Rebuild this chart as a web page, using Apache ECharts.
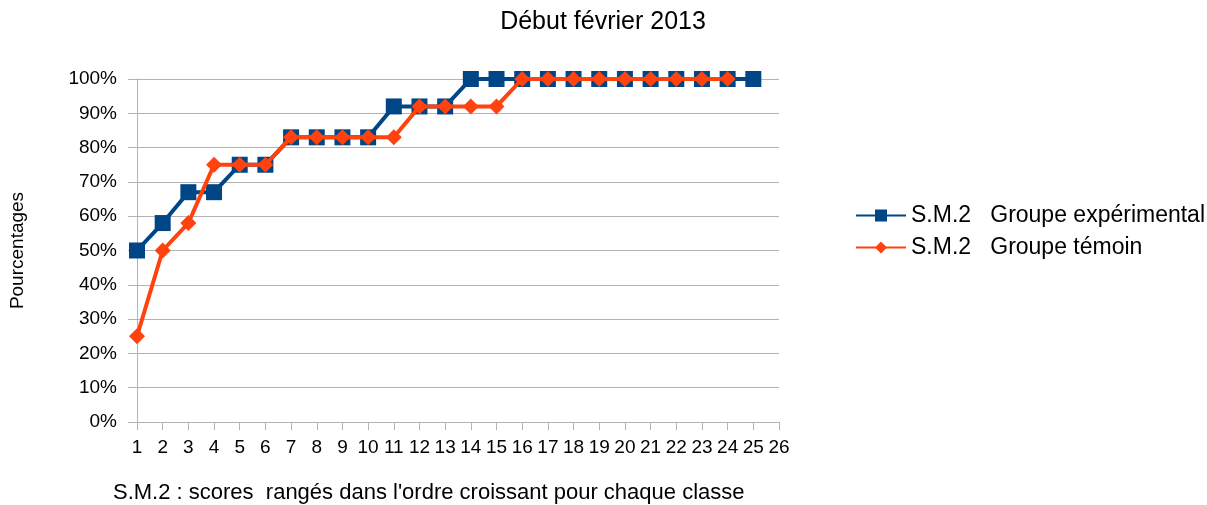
<!DOCTYPE html>
<html>
<head>
<meta charset="utf-8">
<script src="https://cdn.jsdelivr.net/npm/echarts@6/dist/echarts.min.js"></script>
<style>
  html, body { margin: 0; padding: 0; background: #ffffff; }
  #chart { width: 1207px; height: 505px; }
</style>
</head>
<body>
<div id="chart"></div>
<script>
// Rank positions along the x axis (1..26)
const ranks = Array.from({ length: 26 }, (_, i) => String(i + 1));

// Cumulative percentages, scores sorted in ascending order per class
const experimental = [50, 58, 67, 67, 75, 75, 83, 83, 83, 83, 92, 92, 92, 100, 100,
  100, 100, 100, 100, 100, 100, 100, 100, 100, 100];
const temoin = [25, 50, 58, 75, 75, 75, 83, 83, 83, 83, 83, 92, 92, 92, 92,
  100, 100, 100, 100, 100, 100, 100, 100, 100];

const seriesNames = ['S.M.2   Groupe expérimental', 'S.M.2   Groupe témoin'];
const titleText = 'Début février 2013';
const yName = 'Pourcentages';
const xName = "S.M.2 : scores  rangés dans l'ordre croissant pour chaque classe";

const FONT = '"Liberation Sans", Arial, sans-serif';
const chart = echarts.init(document.getElementById('chart'));

chart.setOption({
  backgroundColor: '#ffffff',
  animation: false,
  textStyle: { fontFamily: FONT, color: '#000000' },
  title: {
    text: titleText,
    left: 598,
    top: 5,
    textAlign: 'center',
    textStyle: { fontFamily: FONT, fontSize: 25, fontWeight: 'normal', color: '#000' }
  },
  grid: { left: 135, right: 428, top: 79, bottom: 83, containLabel: false },
  legend: {
    orient: 'vertical',
    left: 850,
    top: 199,
    itemWidth: 50,
    itemHeight: 15,
    itemGap: 9,
    textStyle: { fontFamily: FONT, fontSize: 23, lineHeight: 23, color: '#000' },
    data: seriesNames
  },
  xAxis: {
    type: 'category',
    data: ranks,
    boundaryGap: false,
    axisLine: { lineStyle: { color: '#b3b3b3', width: 1 } },
    axisTick: { show: true, length: 8, inside: false, alignWithLabel: true, lineStyle: { color: '#b3b3b3' } },
    axisLabel: { interval: 0, fontFamily: FONT, fontSize: 19, color: '#000', margin: 16 },
    splitLine: { show: false }
  },
  yAxis: {
    type: 'value',
    min: 0,
    max: 100,
    interval: 10,
    name: yName,
    nameLocation: 'middle',
    nameGap: 110,
    nameTextStyle: { fontFamily: FONT, fontSize: 19, color: '#000' },
    axisLine: { show: true, lineStyle: { color: '#b3b3b3', width: 1 } },
    axisTick: { show: true, length: 9, lineStyle: { color: '#b3b3b3' } },
    axisLabel: { formatter: '{value}%', fontFamily: FONT, fontSize: 19, color: '#000', margin: 20 },
    splitLine: { show: true, lineStyle: { color: '#b3b3b3', width: 1 } }
  },
  graphic: [{
    type: 'text',
    left: 113,
    top: 482,
    style: { text: xName, font: '22px "Liberation Sans", Arial, sans-serif', fill: '#000' }
  }],
  series: [
    {
      name: seriesNames[0],
      type: 'line',
      data: experimental,
      symbol: 'rect',
      symbolSize: 16,
      lineStyle: { color: '#004586', width: 4 },
      itemStyle: { color: '#004586' },
      z: 2
    },
    {
      name: seriesNames[1],
      type: 'line',
      data: temoin,
      symbol: 'diamond',
      symbolSize: 16,
      lineStyle: { color: '#ff420e', width: 4 },
      itemStyle: { color: '#ff420e' },
      z: 3
    }
  ]
});
</script>
</body>
</html>
